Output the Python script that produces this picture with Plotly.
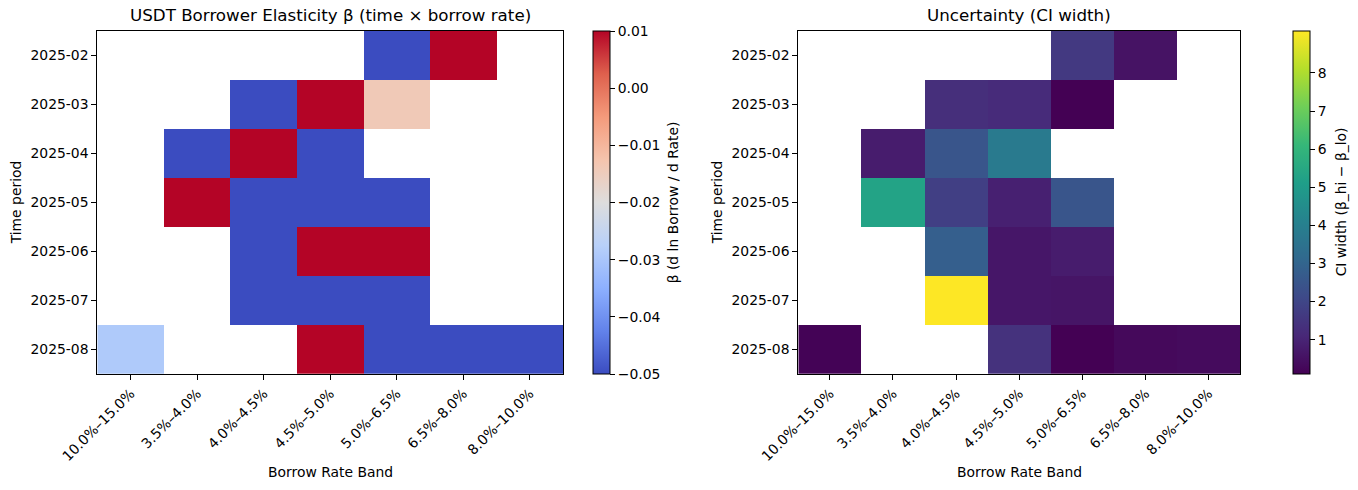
import plotly.graph_objects as go

W, H = 1358, 490

bands = ["10.0%–15.0%", "3.5%–4.0%", "4.0%–4.5%", "4.5%–5.0%", "5.0%–6.5%", "6.5%–8.0%", "8.0%–10.0%"]
periods = ["2025-02", "2025-03", "2025-04", "2025-05", "2025-06", "2025-07", "2025-08"]

beta = [
    [None, None, None, None, -0.05, 0.01, None],
    [None, None, -0.05, 0.01, -0.014, None, None],
    [None, -0.05, 0.01, -0.05, None, None, None],
    [None, 0.01, -0.05, -0.05, -0.05, None, None],
    [None, None, -0.05, 0.01, 0.01, None, None],
    [None, None, -0.05, -0.05, -0.05, None, None],
    [-0.029, None, None, 0.01, -0.05, -0.05, -0.05],
]

ci_width = [
    [None, None, None, None, 1.6, 0.55, None],
    [None, None, 1.3, 1.2, 0.1, None, None],
    [None, 0.8, 2.5, 3.8, None, None, None],
    [None, 5.3, 1.8, 0.9, 2.5, None, None],
    [None, None, 2.8, 0.65, 0.8, None, None],
    [None, None, 9.1, 0.65, 0.6, None, None],
    [0.15, None, None, 1.4, 0.1, 0.3, 0.35],
]

beta_ticks = [-0.05, -0.04, -0.03, -0.02, -0.01, 0.0, 0.01]
beta_ticktext = ["−0.05", "−0.04", "−0.03", "−0.02", "−0.01", "0.00", "0.01"]
ci_ticks = [1, 2, 3, 4, 5, 6, 7, 8]

coolwarm = [
    [0.0, "#3b4cc0"], [0.125, "#6282ea"], [0.25, "#8db0fe"], [0.375, "#b8d0f9"],
    [0.5, "#dddddd"], [0.625, "#f5c4ad"], [0.75, "#f49a7b"], [0.875, "#de604d"],
    [1.0, "#b40426"],
]

FONT = "DejaVu Sans"
FS = 13.9
TFS = 16.7

def px_x(v):
    return v / W

def px_y(v):
    return 1 - v / H

top, bottom = 30.7, 374
yd = [px_y(bottom), px_y(top)]
x1 = [px_x(97.3), px_x(563)]
x2 = [px_x(798.3), px_x(1240)]

flat_ci = [v for r in ci_width for v in r if v is not None]

def cbar(x_px, thick, **kw):
    return dict(
        x=px_x(x_px), xanchor="left", xref="paper", xpad=0, ypad=0,
        y=yd[0], yanchor="bottom", len=yd[1] - yd[0], lenmode="fraction",
        thickness=thick, thicknessmode="pixels",
        outlinewidth=1, outlinecolor="black",
        ticks="outside", ticklen=5, tickcolor="black", tickwidth=1,
        tickfont=dict(family=FONT, size=FS, color="black"),
        **kw,
    )

fig = go.Figure()
fig.add_trace(go.Heatmap(
    z=beta, x=bands, y=periods, xaxis="x", yaxis="y",
    colorscale=coolwarm, zmin=-0.05, zmax=0.01, hoverongaps=False,
    colorbar=cbar(592.7, 16.6, tickvals=beta_ticks, ticktext=beta_ticktext),
))
fig.add_trace(go.Heatmap(
    z=ci_width, x=bands, y=periods, xaxis="x2", yaxis="y2",
    colorscale="Viridis", zmin=min(flat_ci), zmax=max(flat_ci), hoverongaps=False,
    colorbar=cbar(1293.3, 17.4, tickvals=ci_ticks),
))

axis_common = dict(
    showline=True, linecolor="black", linewidth=1, mirror=True,
    ticks="outside", ticklen=5, tickcolor="black", tickwidth=1,
    showgrid=False, zeroline=False, automargin=False,
    tickfont=dict(family=FONT, size=FS, color="black"),
    type="category",
)

fig.update_layout(
    width=W, height=H,
    margin=dict(l=0, r=0, t=0, b=0, autoexpand=False),
    paper_bgcolor="white", plot_bgcolor="white",
    font=dict(family=FONT, size=FS, color="black"),
    xaxis=dict(domain=x1, anchor="y", tickangle=-45, range=[-0.5, 6.5], **axis_common),
    yaxis=dict(domain=yd, anchor="x", autorange="reversed", **axis_common),
    xaxis2=dict(domain=x2, anchor="y2", tickangle=-45, range=[-0.5, 6.5], **axis_common),
    yaxis2=dict(domain=yd, anchor="x2", autorange="reversed", **axis_common),
    showlegend=False,
)

titles = [
    ("USDT Borrower Elasticity β (time × borrow rate)", (97.3 + 563) / 2),
    ("Uncertainty (CI width)", (798.3 + 1240) / 2),
]
for text, cx in titles:
    fig.add_annotation(text=text, x=px_x(cx), y=px_y(15), xref="paper", yref="paper",
                       xanchor="center", yanchor="middle", showarrow=False,
                       font=dict(family=FONT, size=TFS, color="black"))

for cx in [(97.3 + 563) / 2, (798.3 + 1240) / 2]:
    fig.add_annotation(text="Borrow Rate Band", x=px_x(cx), y=px_y(472), xref="paper", yref="paper",
                       xanchor="center", yanchor="middle", showarrow=False,
                       font=dict(family=FONT, size=FS, color="black"))

vlabels = [("Time period", 16), ("Time period", 717),
           ("β (d ln Borrow / d Rate)", 673), ("CI width (β_hi − β_lo)", 1341)]
for text, cx in vlabels:
    fig.add_annotation(text=text, x=px_x(cx), y=px_y((top + bottom) / 2),
                       xref="paper", yref="paper", xanchor="center", yanchor="middle",
                       textangle=-90, showarrow=False,
                       font=dict(family=FONT, size=FS, color="black"))

fig.write_html("out.html", config={"displayModeBar": False},
               post_script="document.body.style.margin='0';document.body.style.overflow='hidden';")
